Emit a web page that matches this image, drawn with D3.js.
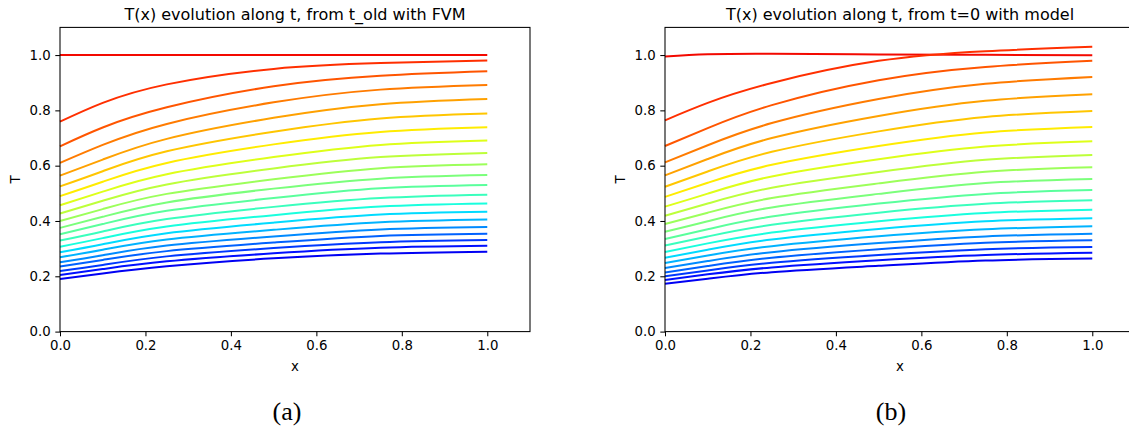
<!DOCTYPE html>
<html>
<head>
<meta charset="utf-8">
<script src="https://cdn.jsdelivr.net/npm/d3@7"></script>
<style>
  html, body { margin: 0; padding: 0; background: #fff; }
  svg { display: block; }
  text { font-family: "DejaVu Sans", sans-serif; fill: #000; }
</style>
</head>
<body>
<svg id="chart" width="1129" height="433"></svg>
<script>
// Sample positions along x at which every profile T(x) is given
const xSamples = [0, 0.1, 0.25, 0.5, 0.75, 1.0];

// Panel (a): profiles computed step by step with the finite-volume scheme
const fvmProfiles = [
  [1.000, 1.000, 1.000, 1.000, 1.000, 1.000],
  [0.759, 0.827, 0.894, 0.950, 0.971, 0.980],
  [0.670, 0.738, 0.811, 0.887, 0.925, 0.941],
  [0.610, 0.675, 0.751, 0.829, 0.875, 0.892],
  [0.564, 0.622, 0.697, 0.773, 0.822, 0.841],
  [0.525, 0.580, 0.652, 0.723, 0.771, 0.789],
  [0.490, 0.542, 0.610, 0.677, 0.722, 0.739],
  [0.457, 0.506, 0.569, 0.631, 0.675, 0.691],
  [0.427, 0.473, 0.532, 0.590, 0.631, 0.646],
  [0.400, 0.443, 0.498, 0.551, 0.591, 0.605],
  [0.375, 0.415, 0.467, 0.517, 0.553, 0.566],
  [0.352, 0.389, 0.437, 0.483, 0.518, 0.530],
  [0.329, 0.362, 0.407, 0.451, 0.483, 0.495],
  [0.307, 0.338, 0.380, 0.421, 0.452, 0.463],
  [0.287, 0.316, 0.356, 0.394, 0.423, 0.433],
  [0.269, 0.296, 0.333, 0.368, 0.395, 0.405],
  [0.251, 0.276, 0.311, 0.344, 0.369, 0.378],
  [0.235, 0.259, 0.291, 0.322, 0.346, 0.354],
  [0.219, 0.241, 0.272, 0.302, 0.323, 0.331],
  [0.205, 0.226, 0.254, 0.283, 0.303, 0.310],
  [0.190, 0.210, 0.236, 0.265, 0.282, 0.289]
];

// Panel (b): profiles predicted by the model, starting from t=0
const modelProfiles = [
  [0.995, 1.003, 1.005, 1.002, 1.001, 0.999],
  [0.764, 0.827, 0.899, 0.979, 1.014, 1.030],
  [0.671, 0.736, 0.819, 0.909, 0.957, 0.979],
  [0.612, 0.674, 0.754, 0.841, 0.896, 0.921],
  [0.565, 0.624, 0.700, 0.780, 0.835, 0.858],
  [0.524, 0.579, 0.650, 0.724, 0.776, 0.798],
  [0.487, 0.538, 0.603, 0.671, 0.720, 0.740],
  [0.452, 0.499, 0.561, 0.623, 0.669, 0.688],
  [0.419, 0.463, 0.520, 0.577, 0.621, 0.639],
  [0.389, 0.430, 0.483, 0.536, 0.578, 0.594],
  [0.361, 0.399, 0.449, 0.498, 0.537, 0.552],
  [0.335, 0.370, 0.416, 0.463, 0.498, 0.512],
  [0.311, 0.344, 0.386, 0.430, 0.462, 0.475],
  [0.288, 0.319, 0.358, 0.399, 0.429, 0.441],
  [0.267, 0.296, 0.333, 0.371, 0.399, 0.410],
  [0.248, 0.275, 0.309, 0.345, 0.370, 0.381],
  [0.230, 0.255, 0.287, 0.320, 0.344, 0.354],
  [0.214, 0.237, 0.267, 0.298, 0.321, 0.330],
  [0.200, 0.221, 0.249, 0.277, 0.298, 0.306],
  [0.187, 0.207, 0.232, 0.258, 0.277, 0.285],
  [0.173, 0.191, 0.215, 0.238, 0.257, 0.264]
];

const xTickValues = [0.0, 0.2, 0.4, 0.6, 0.8, 1.0];
const yTickValues = [0.0, 0.2, 0.4, 0.6, 0.8, 1.0];
const panelTitles = ["T(x) evolution along t, from t_old with FVM",
                     "T(x) evolution along t, from t=0 with model"];
const panelCaptions = ["(a)", "(b)"];
const xLabel = "x";
const yLabel = "T";

// Classic "jet" colormap, piecewise linear per channel
const jetR = [[0, 0], [0.35, 0], [0.66, 1], [0.89, 1], [1, 0.5]];
const jetG = [[0, 0], [0.125, 0], [0.375, 1], [0.64, 1], [0.91, 0], [1, 0]];
const jetB = [[0, 0.5], [0.11, 1], [0.34, 1], [0.65, 0], [1, 0]];
function channel(stops, t) {
  for (let i = 1; i < stops.length; i++) {
    if (t <= stops[i][0]) {
      const [t0, v0] = stops[i - 1], [t1, v1] = stops[i];
      return v0 + (v1 - v0) * (t - t0) / (t1 - t0);
    }
  }
  return stops[stops.length - 1][1];
}
function jet(t) {
  return d3.rgb(255 * channel(jetR, t), 255 * channel(jetG, t), 255 * channel(jetB, t)).formatHex();
}

const svg = d3.select("#chart");
const plotTop = 27.4, plotBottom = 331.6;
const panels = [
  { left: 60,  right: 530,  data: fvmProfiles },
  { left: 665, right: 1135, data: modelProfiles }
];
const tickLen = 4.7, tickPad = 4.7;

panels.forEach((p, k) => {
  const x = d3.scaleLinear().domain([0, 1.1]).range([p.left, p.right]);
  const y = d3.scaleLinear().domain([0, 1.1]).range([plotBottom, plotTop]);
  const g = svg.append("g");

  const n = p.data.length;
  const colour = d3.scaleLinear().domain([0, n - 1]).range([0.9, 0.1]);
  const line = d3.line()
    .x((d, i) => x(xSamples[i]))
    .y(d => y(d))
    .curve(d3.curveNatural);

  g.append("g").selectAll("path")
    .data(p.data)
    .join("path")
    .attr("d", line)
    .attr("fill", "none")
    .attr("stroke", (d, i) => jet(colour(i)))
    .attr("stroke-width", 2)
    .attr("stroke-linejoin", "round");

  // Axes
  const xAxis = d3.axisBottom(x).tickValues(xTickValues)
    .tickFormat(d3.format(".1f")).tickSize(tickLen).tickPadding(tickPad).tickSizeOuter(0);
  const yAxis = d3.axisLeft(y).tickValues(yTickValues)
    .tickFormat(d3.format(".1f")).tickSize(tickLen).tickPadding(tickPad).tickSizeOuter(0);

  const gx = g.append("g").attr("transform", `translate(0,${plotBottom})`).call(xAxis);
  const gy = g.append("g").attr("transform", `translate(${p.left},0)`).call(yAxis);
  [gx, gy].forEach(a => {
    a.select(".domain").remove();
    a.selectAll("line").attr("stroke", "#000").attr("stroke-width", 1.05);
    a.selectAll("text").attr("font-family", "DejaVu Sans").attr("font-size", 13.3).attr("fill", "#000");
  });

  // Frame (spines)
  g.append("rect")
    .attr("x", p.left).attr("y", plotTop)
    .attr("width", p.right - p.left).attr("height", plotBottom - plotTop)
    .attr("fill", "none").attr("stroke", "#000").attr("stroke-width", 1.05);

  const cx = (p.left + p.right) / 2;
  g.append("text").attr("x", cx).attr("y", 19.5)
    .attr("text-anchor", "middle").attr("font-size", 16).text(panelTitles[k]);

  g.append("text").attr("x", cx).attr("y", 371)
    .attr("text-anchor", "middle").attr("font-size", 13.3).text(xLabel);

  g.append("text")
    .attr("transform", `translate(${p.left - 40},${(plotTop + plotBottom) / 2}) rotate(-90)`)
    .attr("text-anchor", "middle").attr("font-size", 13.3).text(yLabel);

  g.append("text").attr("x", k === 0 ? 287 : 891).attr("y", 420)
    .attr("text-anchor", "middle")
    .style("font-family", "'Liberation Serif', serif")
    .attr("font-size", 26).text(panelCaptions[k]);
});
</script>
</body>
</html>
